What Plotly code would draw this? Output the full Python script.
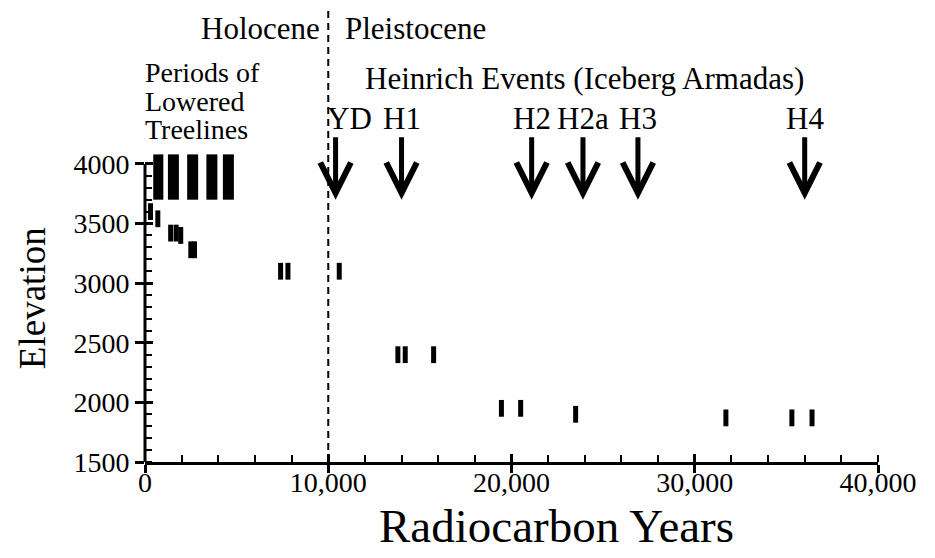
import plotly.graph_objects as go

# ---------------- data ----------------
period_start = [450, 1250, 2300, 3350, 4250]
period_end = [1000, 1850, 2900, 3950, 4850]
period_elev_low = 3700
period_elev_high = 4080

sample_years = [300, 700, 1400, 1700, 1950, 2500, 2700, 7400, 7800, 10600,
                13800, 14200, 15750, 19450, 20500, 23500, 31700, 35300, 36400]
sample_elev = [3600, 3540, 3420, 3420, 3400, 3280, 3280, 3100, 3100, 3100,
               2400, 2400, 2400, 1950, 1950, 1900, 1870, 1870, 1870]

event_names = ["YD", "H1", "H2", "H2a", "H3", "H4"]
event_years = [10400, 14000, 21100, 23900, 26900, 36000]

boundary_year = 10000

x_ticks = [0, 10000, 20000, 30000, 40000]
x_tick_labels = ["0", "10,000", "20,000", "30,000", "40,000"]
y_ticks = [1500, 2000, 2500, 3000, 3500, 4000]
y_tick_labels = ["1500", "2000", "2500", "3000", "3500", "4000"]

period_label_lines = ["Periods of", "Lowered", "Treelines"]

# ---------------- figure ----------------
FONT = "Liberation Serif, Times New Roman, Times, serif"
Y_MIN, Y_AXIS_TOP, Y_VIEW_TOP = 1500, 4000, 4100
fig = go.Figure()

fig.add_trace(go.Bar(
    x=[(s + e) / 2 for s, e in zip(period_start, period_end)],
    y=[period_elev_high - period_elev_low] * len(period_start),
    base=[period_elev_low] * len(period_start),
    width=[e - s for s, e in zip(period_start, period_end)],
    marker=dict(color="black", line=dict(width=0)),
    cliponaxis=False, hoverinfo="skip", showlegend=False,
))

fig.add_trace(go.Scatter(
    x=sample_years, y=sample_elev, mode="markers",
    marker=dict(symbol="line-ns-open", size=12, color="black",
                line=dict(width=5, color="black")),
    cliponaxis=False, showlegend=False,
))

# invisible trace to activate overlay axes (inner halves of major ticks)
fig.add_trace(go.Scatter(x=[x_ticks[0]], y=[y_ticks[0]], xaxis="x2", yaxis="y2",
                         mode="markers", marker=dict(opacity=0),
                         hoverinfo="skip", showlegend=False))

minor_y = list(range(Y_MIN, Y_AXIS_TOP + 1, 100))
tickfont = dict(family=FONT, size=28, color="black")
fig.update_layout(
    width=927, height=550,
    margin=dict(l=137, r=57, t=144, b=96),
    paper_bgcolor="white", plot_bgcolor="white",
    showlegend=False,
    xaxis=dict(range=[0, 40000], tickmode="array", tickvals=x_ticks, ticktext=x_tick_labels,
               ticks="outside", ticklen=8, tickwidth=2.5, tickcolor="black",
               showline=True, linewidth=3, linecolor="black", ticklabelstandoff=-15,
               showgrid=False, zeroline=False, tickfont=tickfont,
               minor=dict(tickmode="linear", tick0=0, dtick=2000, ticks="inside",
                          ticklen=7, tickwidth=2, tickcolor="black", showgrid=False)),
    yaxis=dict(range=[Y_MIN, Y_VIEW_TOP], tickmode="array", tickvals=y_ticks,
               ticktext=y_tick_labels,
               ticks="outside", ticklen=9, tickwidth=2.5, tickcolor="black",
               showline=False, showgrid=False, zeroline=False, tickfont=tickfont,
               minor=dict(tickmode="array", tickvals=minor_y, ticks="inside",
                          ticklen=7, tickwidth=2, tickcolor="black", showgrid=False)),
    xaxis2=dict(range=[0, 40000], overlaying="x", anchor="y", side="bottom",
                tickmode="array", tickvals=x_ticks, ticks="inside", ticklen=8,
                tickwidth=2.5, tickcolor="black", showticklabels=False,
                showline=False, showgrid=False, zeroline=False),
    yaxis2=dict(range=[Y_MIN, Y_VIEW_TOP], overlaying="y", anchor="x", side="left",
                tickmode="array", tickvals=y_ticks, ticks="inside", ticklen=8,
                tickwidth=2.5, tickcolor="black", showticklabels=False,
                showline=False, showgrid=False, zeroline=False),
)

# y axis line (stops at the top tick, as in the original)
fig.add_shape(type="line", xref="paper", yref="y", x0=0, x1=0, y0=Y_MIN, y1=Y_AXIS_TOP,
              line=dict(color="black", width=3))
# Holocene / Pleistocene boundary
fig.add_shape(type="line", xref="x", yref="paper", x0=boundary_year, x1=boundary_year,
              y0=0, y1=1.484, line=dict(color="black", width=2, dash="7px,5px"))

afont = dict(family=FONT, size=31, color="black")
ann = []
ann.append(dict(text="Holocene", x=boundary_year, xref="x", xanchor="right", xshift=-6,
                y=1.397, yref="paper", yanchor="middle", showarrow=False, font=afont))
ann.append(dict(text="Pleistocene", x=boundary_year, xref="x", xanchor="left", xshift=15,
                y=1.397, yref="paper", yanchor="middle", showarrow=False, font=afont))
# tight three-line label: small base size gives ~28px line spacing, spans set glyph size
period_text = "<br>".join("<span style='font-size:28px'>%s</span>" % t
                          for t in period_label_lines)
ann.append(dict(text=period_text, x=0, xref="paper", xanchor="left", xshift=-2, align="left",
                y=1.1645, yref="paper", yanchor="middle", showarrow=False,
                font=dict(family=FONT, size=22, color="black")))
ann.append(dict(text="Heinrich Events (Iceberg Armadas)", x=0.298, xref="paper",
                xanchor="left", y=1.2387, yref="paper", yanchor="middle",
                showarrow=False, font=afont))
for name, yr in zip(event_names, event_years):
    ann.append(dict(text=name, x=yr, xref="x", xanchor="center",
                    xshift=14 if name == "YD" else 0,
                    y=1.1065, yref="paper", yanchor="middle", showarrow=False, font=afont))
    ann.append(dict(text="", x=yr, xref="x", y=3700, yref="y", showarrow=True,
                    ax=0, ay=-64, axref="pixel", ayref="pixel",
                    arrowhead=5, arrowwidth=5, arrowsize=1.2, arrowcolor="black"))
ann.append(dict(text="Elevation", x=-0.154, xref="paper", y=0.529, yref="paper",
                textangle=-90, showarrow=False, xanchor="center", yanchor="middle",
                font=dict(family=FONT, size=37, color="black")))
ann.append(dict(text="Radiocarbon Years", x=0.561, xref="paper", y=-0.206, yref="paper",
                showarrow=False, xanchor="center", yanchor="middle",
                font=dict(family=FONT, size=47, color="black")))
fig.update_layout(annotations=ann)

fig.write_html("out.html")
